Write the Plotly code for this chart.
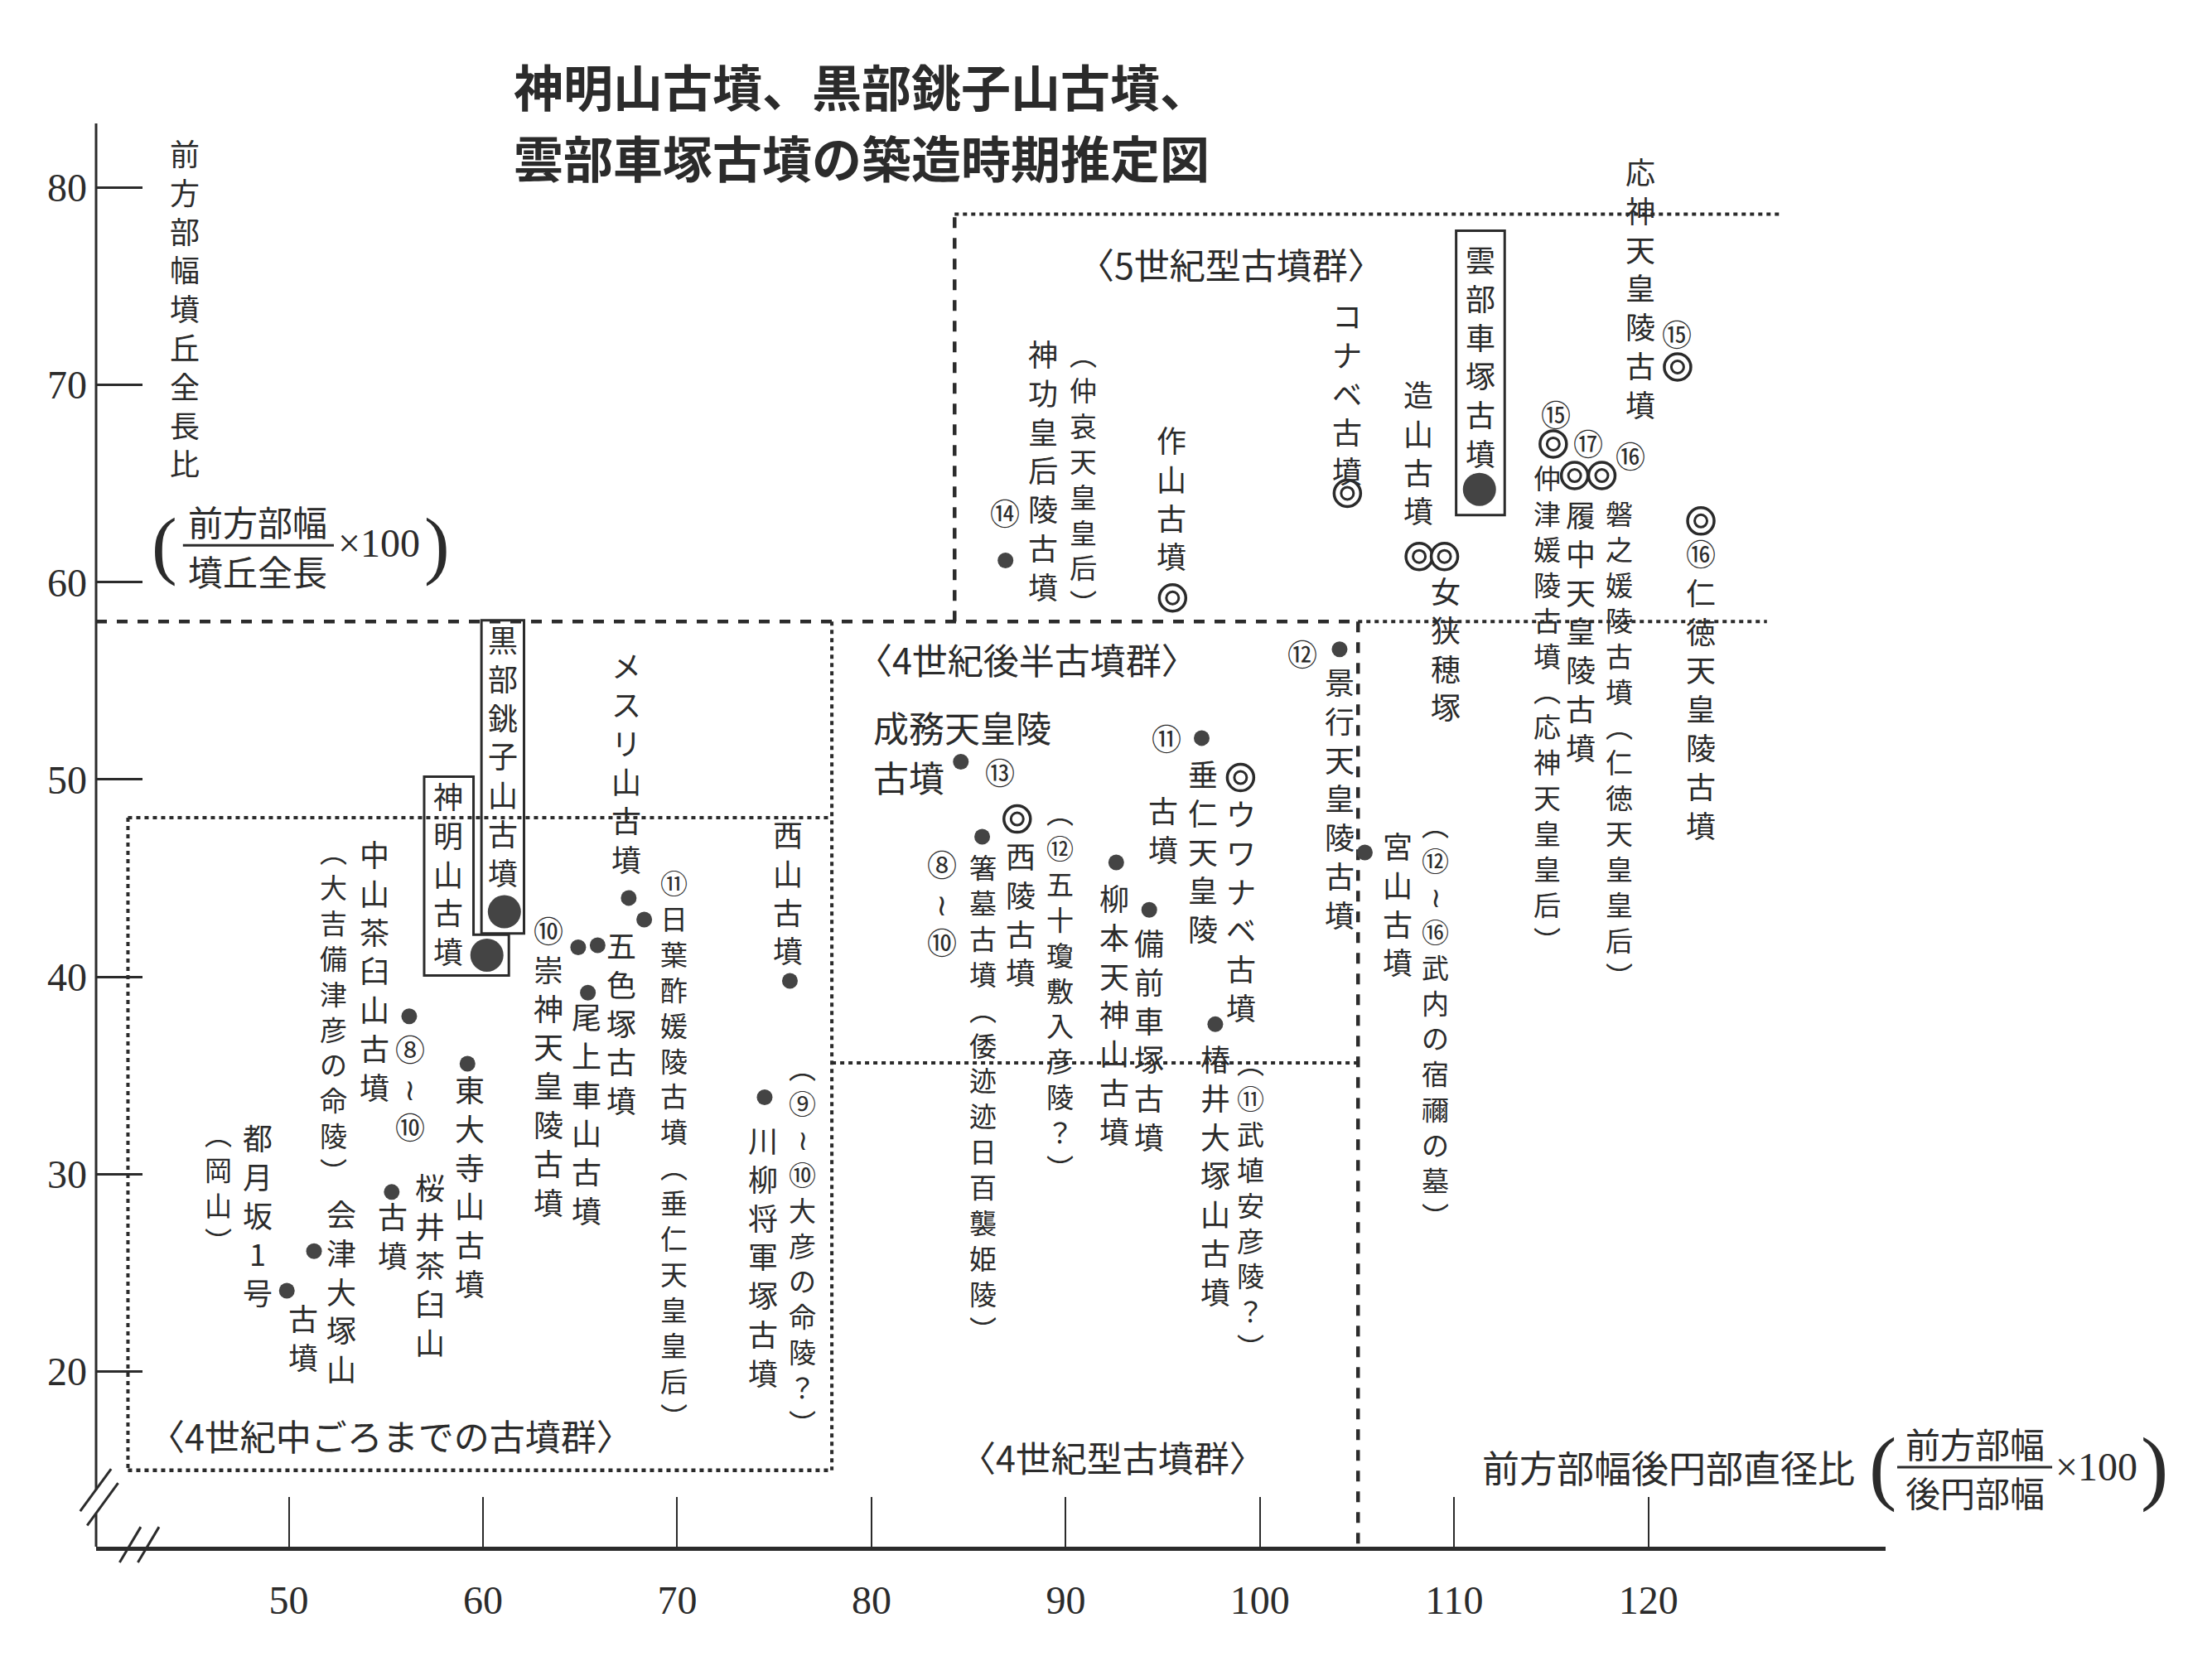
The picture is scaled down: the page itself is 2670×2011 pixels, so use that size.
import plotly.graph_objects as go

# ------------------------------------------------------------------ data
kofun_names = [
    "都月坂1号古墳", "会津大塚山古墳", "桜井茶臼山古墳", "東大寺山古墳", "中山茶臼山古墳",
    "神明山古墳", "黒部銚子山古墳", "崇神天皇陵古墳", "五色塚古墳", "尾上車山古墳",
    "メスリ山古墳", "日葉酢媛陵古墳", "西山古墳", "川柳将軍塚古墳",
    "成務天皇陵古墳", "箸墓古墳", "西陵古墳", "柳本天神山古墳", "備前車塚古墳",
    "垂仁天皇陵古墳", "ウワナベ古墳", "椿井大塚山古墳", "景行天皇陵古墳", "宮山古墳",
    "神功皇后陵古墳", "作山古墳", "コナベ古墳", "雲部車塚古墳", "造山古墳", "女狭穂塚",
    "仲津媛陵古墳", "履中天皇陵古墳", "磐之媛陵古墳", "応神天皇陵古墳", "仁徳天皇陵古墳",
]
# 前方部幅後円部直径比 (x)
width_diameter_ratio = [49.9, 51.3, 55.3, 59.2, 56.2, 60.2, 61.1, 64.9, 65.9, 65.4,
                        67.5, 68.3, 75.8, 74.5,
                        84.6, 85.7, 87.5, 92.6, 94.3, 97.0, 99.0, 97.7, 104.1, 105.4,
                        86.9, 95.5, 104.5, 111.3, 108.2, 109.5, 115.1, 116.2, 117.6, 121.5, 122.7]
# 前方部幅墳丘全長比 (y)
width_length_ratio = [24.1, 26.1, 29.1, 35.6, 38.0, 41.1, 43.3, 41.5, 41.6, 39.2,
                      44.0, 42.9, 39.8, 33.9,
                      50.9, 47.1, 48.0, 45.8, 43.4, 52.1, 50.1, 37.6, 56.6, 46.3,
                      61.1, 59.2, 64.5, 64.7, 61.3, 61.3, 67.0, 65.4, 65.4, 70.9, 63.1]
# symbol class: dot = ●, focus = studied kofun (large ●), double = ◎
mark_class = ["dot", "dot", "dot", "dot", "dot",
              "focus", "focus", "dot", "dot", "dot",
              "dot", "dot", "dot", "dot",
              "dot", "dot", "double", "dot", "dot", "dot", "double", "dot", "dot", "dot",
              "dot", "double", "double", "focus", "double", "double",
              "double", "double", "double", "double", "double"]

x_tick_values = [50, 60, 70, 80, 90, 100, 110, 120]
y_tick_values = [20, 30, 40, 50, 60, 70, 80]

# group boundaries (in ratio units)
bound_y_4c_5c = 58.0
bound_y_5c_top = 78.64
bound_x_5c_left = 84.28
bound_x_5c_right = 126.8
bound_x_mid_right = 77.96
bound_x_late_right = 105.05
bound_y_late_bottom = 35.64
mid_box_x_left = 41.72
mid_box_y_top = 48.07
mid_box_y_bottom = 15.0

# ------------------------------------------------------------------ layout constants
W, H = 2670, 2011
ML, MR, MT, MB = 108, 402, 141, 152
X_RANGE = [40.08, 132.21]
Y_RANGE = [11.13, 83.24]
PX_PER_Y = (H - MT - MB) / (Y_RANGE[1] - Y_RANGE[0])
INK = "#2b2b2b"
DOT = "#444444"
JP = "Noto Sans CJK JP"
SERIF = "Liberation Serif"
VSIZE = 36      # plain vertical columns
PSIZE = 33      # vertical columns containing brackets (tighter)
CSIZE = 36      # stand-alone circled numbers
HSIZE = 43

fig = go.Figure()

def pick(cls):
    idx = [i for i, c in enumerate(mark_class) if c == cls]
    return ([width_diameter_ratio[i] for i in idx],
            [width_length_ratio[i] for i in idx],
            [kofun_names[i] for i in idx])

xs, ys, ns = pick("dot")
fig.add_trace(go.Scatter(x=xs, y=ys, text=ns, mode="markers", hoverinfo="text",
                         marker=dict(size=19, color=DOT)))
xs, ys, ns = pick("focus")
fig.add_trace(go.Scatter(x=xs, y=ys, text=ns, mode="markers", hoverinfo="text",
                         marker=dict(size=40, color=DOT)))
xs, ys, ns = pick("double")
fig.add_trace(go.Scatter(x=xs, y=ys, text=ns, mode="markers", hoverinfo="text",
                         marker=dict(size=32, color="white", symbol="circle",
                                     line=dict(width=3.5, color=INK))))
fig.add_trace(go.Scatter(x=xs, y=ys, mode="markers", hoverinfo="skip",
                         marker=dict(size=15, color="white", symbol="circle",
                                     line=dict(width=3, color=INK))))

# ------------------------------------------------------------------ labels
# vertical columns (tategaki): (text, x centre, y of first glyph top)
vertical_labels = [
    ("都月坂1号", 48.40, 32.57),
    ("︵岡山︶", 46.37, 32.71),
    ("古墳", 50.73, 23.43),
    ("会津大塚山", 52.69, 28.71),
    ("中山茶臼山古墳", 54.43, 46.93),
    ("︵大吉備津彦の命陵︶", 52.32, 47.0),
    ("⑧≀⑩", 56.25, 37.07),
    ("桜井茶臼山", 57.26, 30.07),
    ("古墳", 55.37, 28.57),
    ("東大寺山古墳", 59.30, 35.0),
    ("神明山古墳", 58.21, 49.86),
    ("黒部銚子山古墳", 61.04, 57.79),
    ("⑩崇神天皇陵古墳", 63.36, 43.07),
    ("五色塚古墳", 67.14, 42.29),
    ("尾上車山古墳", 65.32, 38.71),
    ("メスリ山古墳", 67.36, 56.5),
    ("⑪日葉酢媛陵古墳︵垂仁天皇皇后︶", 69.83, 45.43),
    ("西山古墳", 75.71, 47.93),
    ("︵⑨≀⑩大彦の命陵？︶", 76.43, 36.07),
    ("川柳将軍塚古墳", 74.40, 32.43),
    ("⑧≀⑩", 83.62, 46.43),
    ("箸墓古墳︵倭迹迹日百襲姫陵︶", 85.73, 46.21),
    ("西陵古墳", 87.69, 46.86),
    ("︵⑫五十瓊敷入彦陵？︶", 89.72, 49.0),
    ("柳本天神山古墳", 92.48, 44.71),
    ("備前車塚古墳", 94.30, 42.43),
    ("垂仁天皇陵", 97.06, 51.0),
    ("古墳", 95.03, 49.14),
    ("ウワナベ古墳", 99.02, 49.0),
    ("椿井大塚山古墳", 97.71, 36.57),
    ("︵⑪武埴安彦陵？︶", 99.53, 36.29),
    ("景行天皇陵古墳", 104.1, 55.64),
    ("宮山古墳", 107.08, 47.36),
    ("︵⑫≀⑯武内の宿禰の墓︶", 109.04, 48.36),
    ("神功皇后陵古墳", 88.85, 72.29),
    ("︵仲哀天皇皇后︶", 90.89, 72.21),
    ("作山古墳", 95.46, 67.93),
    ("コナベ古墳", 104.47, 74.21),
    ("雲部車塚古墳", 111.37, 77.07),
    ("造山古墳", 108.17, 70.21),
    ("女狭穂塚", 109.55, 60.29),
    ("応神天皇陵古墳", 119.57, 81.5),
    ("仲津媛陵古墳︵応神天皇皇后︶", 114.78, 65.93),
    ("履中天皇陵古墳", 116.52, 64.14),
    ("磐之媛陵古墳︵仁徳天皇皇后︶", 118.48, 64.14),
    ("⑯仁徳天皇陵古墳", 122.69, 62.14),
    ("前方部幅墳丘全長比", 44.63, 82.43),
]
for text, x, y in vertical_labels:
    size = PSIZE if "︵" in text else VSIZE
    lift = 0.34 * size / PX_PER_Y      # gap between box top and first glyph top
    fig.add_annotation(x=x, y=y + lift, xref="x", yref="y", text="<br>".join(list(text)),
                       showarrow=False, xanchor="center", yanchor="top", align="center",
                       font=dict(family=JP, size=size, color=INK))

# stand-alone circled numbers: (text, x centre, y centre)
circled_labels = [
    ("⑬", 86.6, 50.43), ("⑪", 95.17, 52.14), ("⑫", 102.2, 56.43), ("⑭", 86.89, 63.57),
    ("⑮", 121.46, 72.64), ("⑮", 115.22, 68.57), ("⑰", 116.88, 67.07), ("⑯", 119.06, 66.43),
]
for text, x, y in circled_labels:
    fig.add_annotation(x=x, y=y, xref="x", yref="y", text=text, showarrow=False,
                       xanchor="center", yanchor="middle",
                       font=dict(family=JP, size=CSIZE, color=INK))

# horizontal labels: (text, x, y, xanchor)
horizontal_labels = [
    ("〈4世紀中ごろまでの古墳群〉", 55.23, 16.79, "center"),
    ("〈4世紀後半古墳群〉", 87.98, 56.14, "center"),
    ("〈4世紀型古墳群〉", 92.41, 15.71, "center"),
    ("〈5世紀型古墳群〉", 98.51, 76.14, "center"),
    ("成務天皇陵", 79.99, 52.68, "left"),
    ("古墳", 79.99, 50.18, "left"),
    ("前方部幅", 48.40, 63.11, "center"),
    ("墳丘全長", 48.40, 60.61, "center"),
]
for text, x, y, xa in horizontal_labels:
    size = 42 if text in ("前方部幅", "墳丘全長") else HSIZE
    fig.add_annotation(x=x, y=y, xref="x", yref="y", text=text, showarrow=False,
                       xanchor=xa, yanchor="middle",
                       font=dict(family=JP, size=size, color=INK))

# y-axis formula pieces
fig.add_annotation(x=54.65, y=62.0, xref="x", yref="y", text="×100", showarrow=False,
                   xanchor="center", yanchor="middle",
                   font=dict(family=SERIF, size=48, color=INK))
fig.add_annotation(x=43.61, y=61.93, xref="x", yref="y", text="(", showarrow=False,
                   xanchor="center", yanchor="middle",
                   font=dict(family=SERIF, size=92, color=INK))
fig.add_annotation(x=57.63, y=61.93, xref="x", yref="y", text=")", showarrow=False,
                   xanchor="center", yanchor="middle",
                   font=dict(family=SERIF, size=92, color=INK))

# x-axis title (outside plot range -> paper coords)
fig.add_annotation(x=0.7738, y=0.0562, xref="paper", yref="paper", text="前方部幅後円部直径比",
                   showarrow=False, xanchor="left", yanchor="middle",
                   font=dict(family=JP, size=45, color=INK))
fig.add_annotation(x=0.9985, y=0.0562, xref="paper", yref="paper", text="(", showarrow=False,
                   xanchor="center", yanchor="middle",
                   font=dict(family=SERIF, size=100, color=INK))
fig.add_annotation(x=1.0498, y=0.0733, xref="paper", yref="paper", text="前方部幅",
                   showarrow=False, xanchor="center", yanchor="middle",
                   font=dict(family=JP, size=42, color=INK))
fig.add_annotation(x=1.0498, y=0.0386, xref="paper", yref="paper", text="後円部幅",
                   showarrow=False, xanchor="center", yanchor="middle",
                   font=dict(family=JP, size=42, color=INK))
fig.add_annotation(x=1.118, y=0.0562, xref="paper", yref="paper", text="×100", showarrow=False,
                   xanchor="center", yanchor="middle",
                   font=dict(family=SERIF, size=48, color=INK))
fig.add_annotation(x=1.150, y=0.0562, xref="paper", yref="paper", text=")", showarrow=False,
                   xanchor="center", yanchor="middle",
                   font=dict(family=SERIF, size=100, color=INK))

# title (two lines)
fig.add_annotation(x=0.2324, y=1.0268, xref="paper", yref="paper", text="神明山古墳、黒部銚子山古墳、",
                   showarrow=False, xanchor="left", yanchor="middle",
                   font=dict(family=JP, size=60, color=INK, weight="bold"))
fig.add_annotation(x=0.2324, y=0.9772, xref="paper", yref="paper", text="雲部車塚古墳の築造時期推定図",
                   showarrow=False, xanchor="left", yanchor="middle",
                   font=dict(family=JP, size=60, color=INK, weight="bold"))

# ------------------------------------------------------------------ shapes
DASH = "13px,12px"
DOTS = "5px,5px"

def seg(x0, y0, x1, y1, dash, width=4, xref="x", yref="y"):
    fig.add_shape(type="line", x0=x0, y0=y0, x1=x1, y1=y1, xref=xref, yref=yref,
                  line=dict(color=INK, width=width, dash=dash), layer="below")

seg(X_RANGE[0], bound_y_4c_5c, bound_x_late_right, bound_y_4c_5c, DASH, 4.5)
seg(bound_x_late_right, bound_y_4c_5c, bound_x_5c_right - 0.7, bound_y_4c_5c, DOTS, 4)
seg(bound_x_5c_left, bound_y_4c_5c, bound_x_5c_left, bound_y_5c_top, DASH, 4.5)
seg(bound_x_5c_left, bound_y_5c_top, bound_x_5c_right, bound_y_5c_top, DOTS, 4)
seg(bound_x_mid_right, bound_y_4c_5c, bound_x_mid_right, mid_box_y_bottom, DOTS, 4)
seg(bound_x_late_right, bound_y_4c_5c, bound_x_late_right, Y_RANGE[0], DASH, 4.5)
seg(bound_x_mid_right, bound_y_late_bottom, bound_x_late_right, bound_y_late_bottom, DOTS, 4)
seg(mid_box_x_left, mid_box_y_top, bound_x_mid_right, mid_box_y_top, DOTS, 4)
seg(mid_box_x_left, mid_box_y_top, mid_box_x_left, mid_box_y_bottom, DOTS, 4)
seg(mid_box_x_left, mid_box_y_bottom, bound_x_mid_right, mid_box_y_bottom, DOTS, 4.5)

# name boxes of the studied kofun
fig.add_shape(type="rect", x0=59.92, x1=62.11, y0=42.2, y1=58.07, xref="x", yref="y",
              line=dict(color=INK, width=3), layer="below")
fig.add_shape(type="path", xref="x", yref="y", layer="below",
              path="M 56.97 50.14 L 59.51 50.14 L 59.51 42.14 L 61.33 42.14 L 61.33 40.07 L 56.97 40.07 Z",
              line=dict(color=INK, width=3))
fig.add_shape(type="rect", x0=110.1, x1=112.6, y0=63.4, y1=77.8, xref="x", yref="y",
              line=dict(color=INK, width=3), layer="below")

# fraction bar of y formula
seg(44.55, 61.86, 52.32, 61.86, "solid", 3)
# fraction bar of x formula
fig.add_shape(type="line", x0=1.0065, x1=1.0931, y0=0.0559, y1=0.0559, xref="paper", yref="paper",
              line=dict(color=INK, width=3))

# y axis line with break
seg(0, 14.0, 0, Y_RANGE[1], "solid", 3, xref="paper")
seg(0, Y_RANGE[0], 0, 12.8, "solid", 3, xref="paper")
seg(-0.0089, 12.93, 0.0084, 15.07, "solid", 3, xref="paper")
seg(-0.0050, 12.21, 0.0123, 14.36, "solid", 3, xref="paper")
# x axis break marks
seg(41.29, -0.011, 42.38, 0.0139, "solid", 3, yref="paper")
seg(42.23, -0.011, 43.32, 0.0139, "solid", 3, yref="paper")

# ------------------------------------------------------------------ axes
fig.update_xaxes(range=X_RANGE, tickvals=x_tick_values, ticktext=[str(v) for v in x_tick_values],
                 showgrid=False, zeroline=False, showline=True, linewidth=5, linecolor=INK,
                 ticks="inside", ticklen=60, tickwidth=2, tickcolor=INK,
                 ticklabelstandoff=18, tickfont=dict(family=SERIF, size=48, color=INK))
fig.update_yaxes(range=Y_RANGE, tickvals=y_tick_values, ticktext=[str(v) for v in y_tick_values],
                 showgrid=False, zeroline=False, showline=False,
                 ticks="inside", ticklen=56, tickwidth=3, tickcolor=INK,
                 ticklabelstandoff=10, tickfont=dict(family=SERIF, size=48, color=INK))

fig.update_layout(width=W, height=H, showlegend=False,
                  margin=dict(l=ML, r=MR, t=MT, b=MB, autoexpand=False),
                  paper_bgcolor="white", plot_bgcolor="white",
                  font=dict(family=JP, color=INK))

fig.write_html("out.html")
